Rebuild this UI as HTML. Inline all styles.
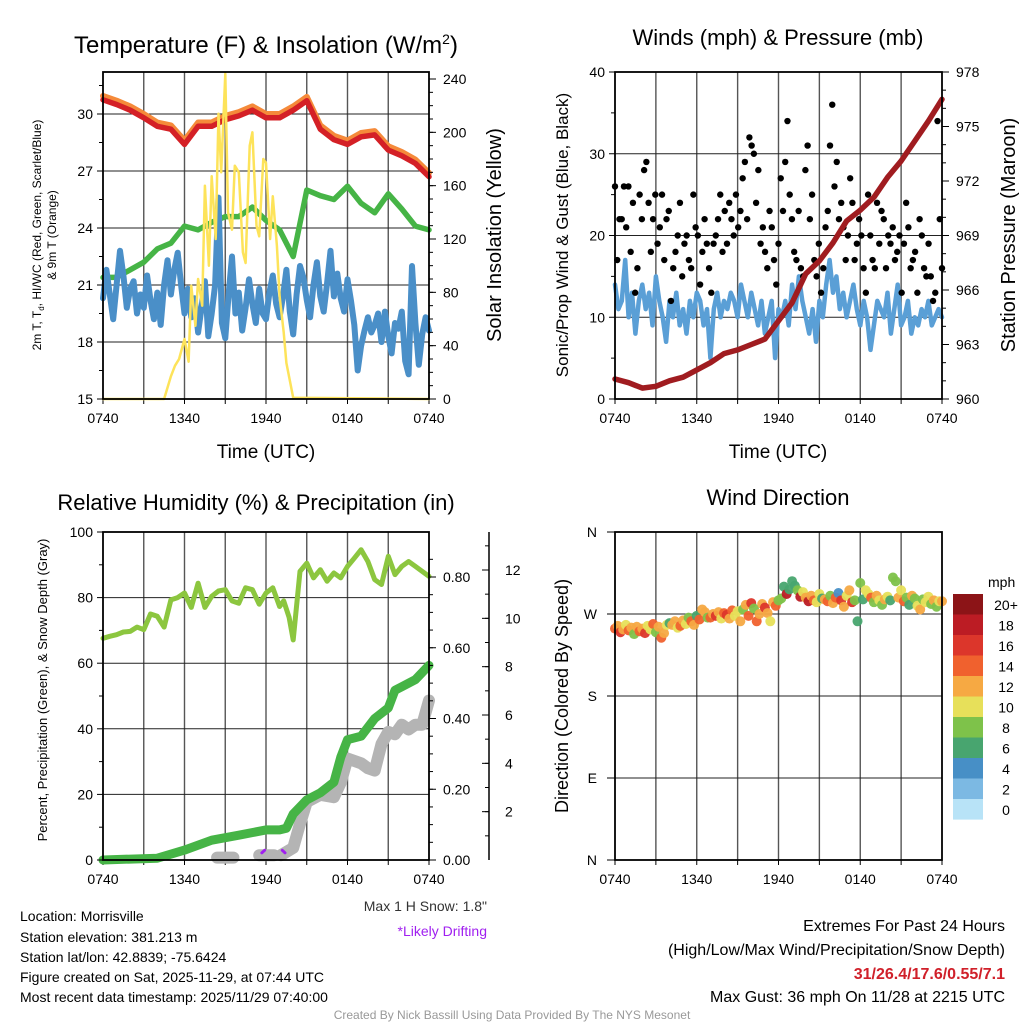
<!DOCTYPE html>
<html><head><meta charset="utf-8"><style>
html,body{margin:0;padding:0;background:#fff;}
svg{display:block;font-family:"Liberation Sans",sans-serif;}
</style></head><body>
<svg id="c" width="1024" height="1024" viewBox="0 0 1024 1024" xmlns="http://www.w3.org/2000/svg">
<g id="text-layer">
<text x="266" y="53" font-size="24" text-anchor="middle">Temperature (F) &amp; Insolation (W/m<tspan font-size="14" dy="-9">2</tspan><tspan dy="9">)</tspan></text>
<text x="778" y="45" font-size="22" text-anchor="middle">Winds (mph) &amp; Pressure (mb)</text>
<text x="256" y="510" font-size="22" text-anchor="middle">Relative Humidity (%) &amp; Precipitation (in)</text>
<text x="778" y="505" font-size="22" text-anchor="middle">Wind Direction</text>
<text x="266" y="458" font-size="19" text-anchor="middle">Time (UTC)</text>
<text x="778" y="458" font-size="19" text-anchor="middle">Time (UTC)</text>
<text transform="translate(41,235) rotate(-90)" font-size="12" text-anchor="middle">2m T, T<tspan font-size="8" dy="3">d</tspan><tspan dy="-3">, HI/WC (Red, Green, Scarlet/Blue)</tspan></text>
<text transform="translate(56,235) rotate(-90)" font-size="12" text-anchor="middle">&amp; 9m T (Orange)</text>
<text transform="translate(501,235) rotate(-90)" font-size="20" text-anchor="middle">Solar Insolation (Yellow)</text>
<text transform="translate(568,235) rotate(-90)" font-size="17" text-anchor="middle">Sonic/Prop Wind &amp; Gust (Blue, Black)</text>
<text transform="translate(1015,235) rotate(-90)" font-size="20" text-anchor="middle">Station Pressure (Maroon)</text>
<text transform="translate(47,690) rotate(-90)" font-size="13" text-anchor="middle">Percent, Precipitation (Green), &amp; Snow Depth (Gray)</text>
<text transform="translate(568,696) rotate(-90)" font-size="18" text-anchor="middle">Direction (Colored By Speed)</text>
<text x="988" y="587" font-size="14" text-anchor="start">mph</text>
<text x="487" y="911" font-size="14" text-anchor="end" fill="#333">Max 1 H Snow: 1.8"</text>
<text x="487" y="936" font-size="14" text-anchor="end" fill="#a020f0">*Likely Drifting</text>
<g font-size="14">
<text x="20" y="921">Location: Morrisville</text>
<text x="20" y="942">Station elevation: 381.213 m</text>
<text x="20" y="962">Station lat/lon: 42.8839; -75.6424</text>
<text x="20" y="982">Figure created on Sat, 2025-11-29, at 07:44 UTC</text>
<text x="20" y="1002">Most recent data timestamp: 2025/11/29 07:40:00</text>
</g>
<g font-size="16" text-anchor="end">
<text x="1005" y="931">Extremes For Past 24 Hours</text>
<text x="1005" y="955">(High/Low/Max Wind/Precipitation/Snow Depth)</text>
<text x="1005" y="979" fill="#d0202a" font-weight="bold">31/26.4/17.6/0.55/7.1</text>
<text x="1005" y="1002">Max Gust: 36 mph On 11/28 at 2215 UTC</text>
</g>
<text x="512" y="1019" font-size="12" text-anchor="middle" fill="#999">Created By Nick Bassill Using Data Provided By The NYS Mesonet</text>
</g>
</svg>
<script>
// ---- Data (hours since 0740 UTC) ----
const xTickLabels = ["0740","1340","1940","0140","0740"];
const tempHours = [0,1,2,3,4,5,6,7,8,9,10,11,12,13,14,15,16,17,18,19,20,21,22,23,24];
const tempRed = [30.75,30.5,30.2,29.8,29.35,29.2,28.4,29.35,29.35,29.7,29.9,30.2,29.8,29.8,30.2,30.7,29.2,28.65,28.4,28.8,28.9,28.1,27.8,27.4,26.7];
const temp9m = [30.95,30.7,30.4,30.0,29.55,29.4,28.6,29.55,29.55,29.9,30.1,30.4,30.0,30.0,30.4,30.9,29.4,28.85,28.6,29.0,29.1,28.3,28.0,27.6,26.9];
const dewGreen = [21.4,21.4,21.8,22.2,22.9,23.2,24.1,23.9,24.3,24.6,24.6,25.1,24.4,23.9,22.5,26.0,25.7,25.5,26.2,25.3,24.8,25.8,25.0,24.1,23.9];
const windChill = [20.3,21.8,20.5,19.2,21.0,22.8,21.5,19.8,20.8,21.2,19.5,20.5,19.8,21.5,20.2,19.2,20.6,18.9,21.0,22.3,20.5,21.8,22.7,21.0,19.5,20.8,19.3,20.3,18.5,19.8,21.2,18.3,19.5,21.0,25.6,19.0,18.2,20.5,22.5,19.5,20.6,18.6,19.8,21.3,20.0,19.0,20.8,19.5,19.2,20.6,21.5,20.0,19.3,20.4,21.8,19.6,18.4,20.5,22.0,21.4,20.2,19.3,21.0,22.2,20.4,19.6,21.1,22.8,20.4,21.6,20.3,19.6,21.3,20.2,18.9,16.5,17.8,18.6,19.3,18.5,18.9,19.5,18.0,19.6,18.3,17.4,19.0,18.7,19.6,17.0,16.3,22.0,19.0,16.8,18.4,19.3,18.6];
const solarHours = [0,4.5,5,5.3,5.6,6,6.3,6.5,6.8,7,7.3,7.5,7.8,8,8.3,8.5,8.7,9,9.2,9.5,9.7,10,10.3,10.5,10.8,11,11.3,11.5,11.8,12,12.3,12.5,12.8,13,13.3,13.5,14,24];
const solarVals = [0,0,17,25,30,45,28,85,55,90,70,160,100,167,120,214,170,244,140,127,175,170,110,102,190,200,130,122,180,177,120,152,115,77,50,27,1,0];
const pressHours = tempHours;
const pressure = [961.1,960.9,960.6,960.7,961.0,961.2,961.6,962.0,962.5,962.7,963.0,963.3,964.3,965.3,966.9,967.6,968.6,969.8,970.4,971.1,972.2,973.1,974.2,975.3,976.5];
const windSpeed = [14,11,12,17,10,13,8,12,14,11,13,9,15,12,10,7,12,10,13,9,11,8,12,10,13,12,9,11,5,11,13,10,12,11,13,12,10,14,12,10,13,11,9,12,8,10,12,5,11,10,12,9,14,11,15,12,10,8,11,7,12,10,14,17,13,15,11,13,10,12,14,11,9,12,10,6,9,12,11,10,13,8,11,14,9,10,12,8,10,9,11,10,12,9,10,11,10];
const windGust = [26,17,22,22,26,21,26,18,24,13,16,25,22,28,29,24,18,22,25,19,21,25,17,22,23,12,16,18,20,24,15,19,20,17,16,25,21,20,14,18,22,19,16,13,19,20,22,25,18,23,19,24,22,20,25,21,23,27,29,22,32,31,30,24,28,19,21,18,16,23,21,17,14,19,27,23,29,34,25,22,18,17,23,16,15,28,31,22,25,17,15,19,13,16,21,23,31,36,26,29,22,24,21,17,20,27,24,17,19,22,20,16,13,25,20,17,16,24,19,23,22,16,20,19,21,17,18,20,13,19,24,21,16,17,18,13,22,20,16,15,19,15,12,13,34,22,16];
const rhHours = [0,0.5,1,1.5,2,2.5,3,3.5,4,4.5,5,5.5,6,6.5,7,7.5,8,8.5,9,9.5,10,10.5,11,11.5,12,12.5,13,13.3,13.7,14,14.5,15,15.5,16,16.5,17,17.5,18,18.5,19,19.5,20,20.5,21,21.5,22,22.5,23,23.5,24];
const rhVals = [67.6,68.2,68.7,69.5,69.7,71,70.2,75,74.3,71,79.3,80,81.4,77,84.4,77,80.4,82,82.4,79,78.3,83,82.4,78,81.4,83,77.3,79,74,67.1,88,90.5,86,88.5,85,87.5,86,89.5,92,94.6,91,85.5,84,92.6,87,89.5,91,89.5,88,86.5];
const precipHours = [0,4,6,8,10,12,13,13.5,14,15,16,17,17.5,18,19,20,21,21.5,22,23,24];
const precipVals = [0,0.005,0.028,0.056,0.07,0.085,0.085,0.09,0.13,0.17,0.19,0.22,0.29,0.34,0.35,0.40,0.43,0.48,0.49,0.51,0.55];
const snowHours = [8.4,9.6,null,11.5,12.6,null,13.1,14,14.5,15,16,17,17.5,18,19,19.5,20,20.5,21,21.5,22,22.5,23,23.5,24];
const snowVals = [0.1,0.1,null,0.2,0.2,null,0.2,0.5,1.5,2.4,2.7,2.6,3.2,4.2,4.0,3.8,3.7,4.8,5.3,5.2,5.6,5.4,5.6,5.6,6.6];
const driftHours = [11.7,11.9,13.2,13.4];
const driftVals = [0.3,0.4,0.4,0.3];
const dirDeg = [254,257,250,253,258,252,255,248,256,251,254,249,257,253,259,250,256,244,249,258,260,258,262,255,257,263,259,266,262,258,268,264,275,272,266,266,270,268,272,265,271,269,265,274,268,273,262,275,280,268,282,276,262,270,281,277,271,262,283,279,285,287,300,292,297,306,301,296,289,294,288,284,290,285,283,292,287,286,284,290,282,288,293,285,278,290,296,283,285,262,304,286,296,292,288,283,290,285,280,286,289,285,310,306,288,296,284,288,280,290,287,279,275,286,283,289,281,285,278,284,284];
const dirSpeed = [14,12,16,13,10,15,13,8,12,14,13,16,11,10,15,9,12,14,13,10,7,13,12,11,15,12,10,8,14,13,6,15,12,13,8,14,12,16,13,11,15,17,12,14,10,11,13,9,12,15,16,8,14,13,12,17,13,10,12,14,8,9,7,18,6,6,7,8,19,11,13,18,12,14,11,10,6,12,14,9,12,15,4,17,12,10,13,16,9,6,8,7,10,11,14,8,12,10,9,13,11,7,9,8,12,10,14,8,7,13,9,10,12,8,11,10,9,12,8,11,12];
const cbLabels = ["20+","18","16","14","12","10","8","6","4","2","0"];
const cbColors = ["#8c1417","#bc1c24","#dc362b","#f0612e","#f6a943","#e7e05a","#7ec24a","#48a56f","#478fc6","#7cb9e3","#b8e3f7"];

const NS = "http://www.w3.org/2000/svg";
const svg = document.getElementById("c");
function el(tag, attrs, parent){ const e=document.createElementNS(NS,tag); for(const k in attrs) e.setAttribute(k,attrs[k]); (parent||svg).appendChild(e); return e; }
function mkX(x0,x1){ return h => x0 + h/24*(x1-x0); }
function mkY(y0,y1,vmin,vmax){ return v => y1 - (v-vmin)/(vmax-vmin)*(y1-y0); }
function pathD(xs, ys, xf, yf){ let d="", pen=false; for(let i=0;i<ys.length;i++){ if(ys[i]==null||xs[i]==null){pen=false;continue;} d += (pen?"L":"M")+xf(xs[i]).toFixed(1)+","+yf(ys[i]).toFixed(1); pen=true;} return d; }
function seqHours(n){ return Array.from({length:n},(_,i)=>i*24/(n-1)); }

function frame(name,x0,x1,y0,y1,hLines,yf){
  const g = el("g",{});
  
  
  const xf = mkX(x0,x1);
  for(let h=3;h<24;h+=3){ const l=el("line",{x1:xf(h),x2:xf(h),y1:y0,y2:y1,stroke:"#555","stroke-width":1.4},g);
    
     }
  hLines.forEach(v=>{ const l=el("line",{x1:x0,x2:x1,y1:yf(v),y2:yf(v),stroke:"#222","stroke-width":1},g);
    
     });
  xTickLabels.forEach((t,i)=>{ const h=i*6; el("line",{x1:xf(h),x2:xf(h),y1:y1,y2:y1+5,stroke:"#000"},g);
    const tx=el("text",{x:xf(h),y:y1+24,"font-size":14,"text-anchor":"middle"},g); tx.textContent=t;
    
     });
  for(let h=3;h<24;h+=6) el("line",{x1:xf(h),x2:xf(h),y1:y1,y2:y1+5,stroke:"#000"},g);
  return g;
}
function border(x0,x1,y0,y1,name){ const r=el("rect",{x:x0,y:y0,width:x1-x0,height:y1-y0,fill:"none",stroke:"#000","stroke-width":1.8});
  
   }
function leftTicks(x0,yf,vals,fmt,minor){ vals.forEach(v=>{ el("line",{x1:x0-6,x2:x0,y1:yf(v),y2:yf(v),stroke:"#000"});
  const t=el("text",{x:x0-10,y:yf(v)+5,"font-size":14,"text-anchor":"end"}); t.textContent=fmt(v);
  
   });
  (minor||[]).forEach(v=>el("line",{x1:x0-4,x2:x0,y1:yf(v),y2:yf(v),stroke:"#000"})); }
function rightTicks(x1,yf,vals,fmt,minor){ vals.forEach(v=>{ el("line",{x1:x1,x2:x1+7,y1:yf(v),y2:yf(v),stroke:"#000"});
  const t=el("text",{x:x1+14,y:yf(v)+5,"font-size":14,"text-anchor":"start"}); t.textContent=fmt(v);
  
   });
  (minor||[]).forEach(v=>el("line",{x1:x1,x2:x1+4,y1:yf(v),y2:yf(v),stroke:"#000"})); }
function series(d,color,w,name){ const p=el("path",{d:d,fill:"none",stroke:color,"stroke-width":w,"stroke-linejoin":"round","stroke-linecap":"round"});
  
   return p; }
function range(a,b,s){ const r=[]; for(let v=a;v<=b+1e-9;v+=s) r.push(+v.toFixed(4)); return r; }

// ---- Panel 1 ----
{ const x0=103,x1=429,y0=72,y1=399; const xf=mkX(x0,x1);
  const yT=mkY(y0,y1,15,15+(y1-y0)/57*3); const yS=v=>y1-v/240*(y1-79);
  frame("temperature",x0,x1,y0,y1,[18,21,24,27,30],yT);
  series(pathD(tempHours,temp9m,xf,yT),"#f58a3a",6,"nine-meter-temp-line");
  series(pathD(tempHours,tempRed,xf,yT),"#d42026",5.5,"two-meter-temp-line");
  series(pathD(tempHours,dewGreen,xf,yT),"#46b446",5.5,"dewpoint-line");
  series(pathD(seqHours(windChill.length),windChill,xf,yT),"#4a8fc8",6,"wind-chill-line");
  series(pathD(solarHours,solarVals,xf,yS),"#fde35a",2.5,"solar-insolation-line");
  border(x0,x1,y0,y1,"temperature");
  leftTicks(x0,yT,[15,18,21,24,27,30],v=>String(v),[16.5,19.5,22.5,25.5,28.5,31.5]);
  rightTicks(x1,yS,[0,40,80,120,160,200,240],v=>String(v),range(10,240,10));
}
// ---- Panel 2 ----
{ const x0=615,x1=942,y0=72,y1=399; const xf=mkX(x0,x1);
  const yW=mkY(y0,y1,0,40); const yP=mkY(y0,y1,960,978);
  frame("winds",x0,x1,y0,y1,[10,20,30],yW);
  series(pathD(seqHours(windSpeed.length),windSpeed,xf,yW),"#5a9fd6",4.5,"wind-speed-line");
  const gh=seqHours(windGust.length);
  windGust.forEach((v,i)=>{ const c=el("circle",{cx:xf(gh[i]),cy:yW(v),r:3.2,fill:"#000"});
    
     });
  series(pathD(pressHours,pressure,xf,yP),"#a01c20",5.5,"pressure-line");
  border(x0,x1,y0,y1,"winds");
  leftTicks(x0,yW,[0,10,20,30,40],v=>String(v),[5,15,25,35]);
  rightTicks(x1,yP,[960,963,966,969,972,975,978],v=>String(v),range(961,977,1));
}
// ---- Panel 3 ----
{ const x0=103,x1=429,y0=532,y1=860; const xf=mkX(x0,x1);
  const yR=mkY(y0,y1,0,100); const yPr=v=>y1-v/0.8*(y1-577); const ySn=v=>y1-v/12*(y1-570);
  frame("humidity",x0,x1,y0,y1,[20,40,60,80],yR);
  series(pathD(snowHours,snowVals,xf,ySn),"#b4b4b4",12,"snow-depth-line");
  series(pathD(rhHours,rhVals,xf,yR),"#8cc63f",5,"relative-humidity-line");
  series(pathD(precipHours,precipVals,xf,yPr),"#46b446",9,"precipitation-line");
  series(pathD([driftHours[0],driftHours[1],null,driftHours[2],driftHours[3]],[driftVals[0],driftVals[1],null,driftVals[2],driftVals[3]],xf,ySn),"#a020f0",3,"drifting-marks");
  border(x0,x1,y0,y1,"humidity");
  leftTicks(x0,yR,[0,20,40,60,80,100],v=>String(v),[10,30,50,70,90]);
  rightTicks(x1,yPr,[0,0.2,0.4,0.6,0.8],v=>v.toFixed(2),range(0.05,0.85,0.05));
  const ax=489; const a=el("line",{x1:ax,x2:ax,y1:y0,y2:y1,stroke:"#000","stroke-width":1.5});
  
  
  [2,4,6,8,10,12].forEach(v=>{ el("line",{x1:ax-7,x2:ax,y1:ySn(v),y2:ySn(v),stroke:"#000"});
    const t=el("text",{x:ax+16,y:ySn(v)+5,"font-size":14,"text-anchor":"start"}); t.textContent=String(v);
    
     });
  range(1,13,1).forEach(v=>{ if(ySn(v)>y0) el("line",{x1:ax-4,x2:ax,y1:ySn(v),y2:ySn(v),stroke:"#000"}); });
}
// ---- Panel 4 ----
{ const x0=615,x1=942,y0=532,y1=860; const xf=mkX(x0,x1);
  const yD=mkY(y0,y1,0,360);
  frame("direction",x0,x1,y0,y1,[90,180,270],yD);
  const dh=seqHours(dirDeg.length);
  dirDeg.forEach((d,i)=>{ const s=dirSpeed[i]; const bin=Math.min(10,Math.floor(s/2)); const c=el("circle",{cx:xf(dh[i]),cy:yD(d),r:5,fill:cbColors[10-bin],opacity:0.95});
    
     });
  border(x0,x1,y0,y1,"direction");
  const dl=["N","E","S","W","N"];
  [0,90,180,270,360].forEach((v,i)=>{ el("line",{x1:x0-8,x2:x0,y1:yD(v),y2:yD(v),stroke:"#000"});
    const t=el("text",{x:x0-18,y:yD(v)+5,"font-size":14,"text-anchor":"end"}); t.textContent=dl[i];
    
     });
  const cb=el("g",{});
  
  
  cbColors.forEach((col,i)=>{ const y=594+i*20.5; el("rect",{x:953,y:y,width:30,height:20.6,fill:col},cb);
    const t=el("text",{x:1006,y:y+16,"font-size":14,"text-anchor":"middle"},cb); t.textContent=cbLabels[i];
    
     });
}
svg.appendChild(document.getElementById("text-layer"));
</script>
</body></html>
